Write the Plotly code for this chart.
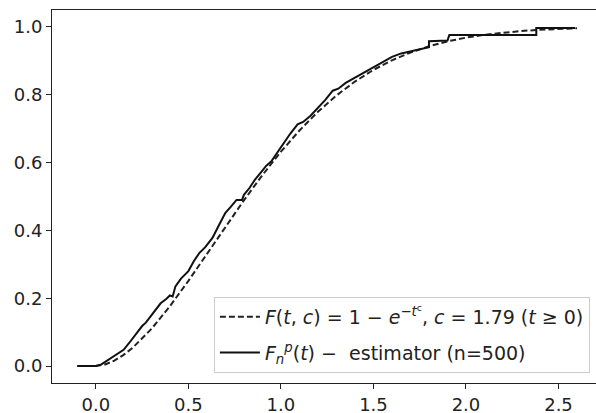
import plotly.graph_objects as go

# Theoretical CDF values
t_theory = [-0.1, 0.0, 0.05, 0.1, 0.15, 0.2, 0.3, 0.4, 0.5, 0.6, 0.7, 0.8, 0.9, 1.0,
            1.1, 1.2, 1.3, 1.4, 1.5, 1.6, 1.7, 1.8, 1.9, 2.0, 2.1, 2.2, 2.3, 2.4, 2.5, 2.6]
F_theory = [0.0, 0.0, 0.0047, 0.0161, 0.033, 0.0546, 0.1094, 0.1763, 0.2512, 0.3302,
            0.4103, 0.4887, 0.5631, 0.6321, 0.6946, 0.7499, 0.7979, 0.8390, 0.8734,
            0.9017, 0.9246, 0.9430, 0.9574, 0.9685, 0.9770, 0.9834, 0.9882, 0.9917,
            0.9942, 0.9960]

# Estimator values
t_est = [-0.1, 0.0, 0.03, 0.07, 0.10, 0.13, 0.15, 0.18, 0.22, 0.25, 0.27, 0.29, 0.32,
         0.35, 0.38, 0.40, 0.415, 0.43, 0.46, 0.50, 0.53, 0.56, 0.59, 0.63, 0.66, 0.70,
         0.73, 0.76, 0.79, 0.80, 0.83, 0.86, 0.89, 0.92, 0.95, 0.98, 1.01, 1.05, 1.09,
         1.12, 1.16, 1.20, 1.24, 1.28, 1.31, 1.35, 1.40, 1.45, 1.50, 1.55, 1.60, 1.65,
         1.70, 1.75, 1.80, 1.80, 1.90, 1.91, 2.38, 2.38, 2.59]
F_est = [0.0, 0.0, 0.005, 0.02, 0.03, 0.04, 0.048, 0.068, 0.095, 0.118, 0.128, 0.143,
         0.165, 0.185, 0.198, 0.208, 0.205, 0.235, 0.258, 0.28, 0.31, 0.334, 0.35, 0.378,
         0.41, 0.452, 0.47, 0.49, 0.49, 0.505, 0.525, 0.55, 0.57, 0.59, 0.605, 0.63,
         0.654, 0.685, 0.713, 0.72, 0.738, 0.76, 0.785, 0.812, 0.818, 0.835, 0.85,
         0.866, 0.882, 0.895, 0.912, 0.922, 0.928, 0.935, 0.94, 0.958, 0.96, 0.976,
         0.976, 0.997, 0.997]

x_ticks = [0.0, 0.5, 1.0, 1.5, 2.0, 2.5]
y_ticks = [0.0, 0.2, 0.4, 0.6, 0.8, 1.0]

label_theory = ("<i>F</i>(<i>t</i>, <i>c</i>) = 1 − <i>e</i><sup>−<i>t</i><sup>c</sup></sup>, "
                "<i>c</i> = 1.79 (<i>t</i> ≥ 0)")
label_est = "<i>F</i><sub><i>n</i></sub><sup><i>p</i></sup>(<i>t</i>) −  estimator (n=500)"

fig = go.Figure()
fig.add_trace(go.Scatter(x=t_theory, y=F_theory, mode="lines", name=label_theory,
                         legendgroup="a",
                         line=dict(color="#222222", width=2, dash="6px,3px")))
fig.add_trace(go.Scatter(x=t_est, y=F_est, mode="lines", name=label_est,
                         legendgroup="b",
                         line=dict(color="#111111", width=2)))

font = "DejaVu Sans, Liberation Sans, sans-serif"
fig.update_layout(
    width=602, height=413,
    margin=dict(l=52, r=0, t=10, b=30),
    paper_bgcolor="white", plot_bgcolor="white",
    font=dict(family=font, size=18, color="#222222"),
    showlegend=True,
    legend=dict(x=0.978, y=0.027, xanchor="right", yanchor="bottom",
                bgcolor="rgba(255,255,255,0.85)", bordercolor="#cccccc", borderwidth=1,
                font=dict(family=font, size=19, color="#222222"),
                traceorder="grouped", tracegroupgap=8, itemwidth=40),
)
fig.update_xaxes(range=[-0.237, 2.735], tickvals=x_ticks,
                 ticktext=[f"{v:.1f}" for v in x_ticks], automargin=False,
                 showgrid=False, zeroline=False, showline=True, linecolor="#222222",
                 linewidth=1, mirror=True, ticks="outside", ticklen=5, tickcolor="#222222",
                 tickfont=dict(size=18))
fig.update_yaxes(range=[-0.05, 1.05], tickvals=y_ticks,
                 ticktext=[f"{v:.1f}" for v in y_ticks], automargin=False,
                 showgrid=False, zeroline=False, showline=True, linecolor="#222222",
                 linewidth=1, mirror=False, ticks="outside", ticklen=5, tickcolor="#222222",
                 tickfont=dict(size=18))

fig.write_html("out.html", config={"displayModeBar": False},
               post_script="document.body.style.margin='0px';"
                           "document.body.style.overflow='hidden';")
